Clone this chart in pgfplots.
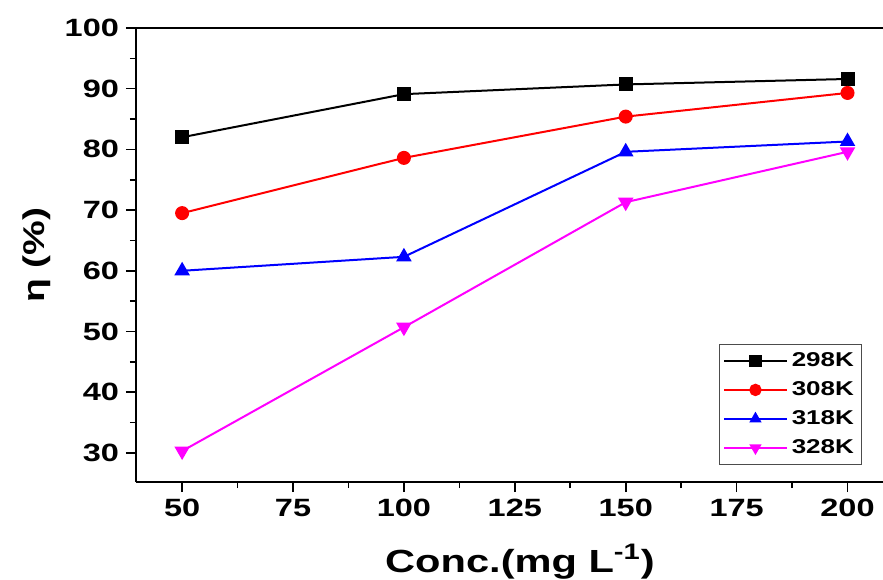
\documentclass[border=0pt]{standalone}
\usepackage{fontspec}
\setmainfont{Liberation Sans}[FakeStretch=1.3]
\usepackage{pgfplots}
\pgfplotsset{compat=1.18}
\definecolor{mag}{RGB}{255,0,255}
\definecolor{bl}{RGB}{0,0,255}
\definecolor{rd}{RGB}{255,0,0}
\begin{document}
\begin{tikzpicture}
\begin{axis}[
  scale only axis,
  width=373.5pt, height=227pt,
  xmin=39.6, xmax=208, ymin=25.2, ymax=100,
  axis x line*=box, axis y line*=left,
  axis line style={line width=1pt},
  xtick={50,75,...,200}, ytick={30,40,...,100},
  minor x tick num=1, minor y tick num=1,
  xtick pos=bottom, ytick pos=left,
  tick align=outside,
  major tick length=5pt, minor tick length=3pt,
  every tick/.style={line width=0.8pt, black},
  /pgf/number format/assume math mode=true,
  tick label style={font=\fontsize{12.5}{14}\selectfont\bfseries},
  xlabel={\textbf{Conc.(mg L\textsuperscript{-1})}},
  xlabel style={font=\fontsize{16}{18}\selectfont, at={(axis description cs:0.514,0)}, anchor=base, yshift=-45pt},
  ylabel={\textbf{η (\%)}},
  ylabel style={font=\fontsize{15}{17}\selectfont, at={(axis description cs:-0.1325,0.5)}, anchor=center},
  legend style={at={(0.78,0.304)}, anchor=north west, font=\fontsize{10}{11}\selectfont\bfseries,
    draw=black!70, line width=0.5pt, row sep=2pt, inner sep=2pt},
  legend cell align=left,
  legend image code/.code={\draw[mark repeat=2,mark phase=2, mark size=2.6pt] plot coordinates {(0cm,0cm)(0.55cm,0cm)(1.1cm,0cm)};},
  every axis plot/.append style={line width=1pt},
  clip=false
]
\addplot[black, mark=square*, mark size=3pt, mark options={solid}] coordinates {(50,82) (100,89.1) (150,90.7) (200,91.6)};
\addlegendentry{298K}
\addplot[rd, mark=*, mark size=3pt] coordinates {(50,69.5) (100,78.6) (150,85.4) (200,89.3)};
\addlegendentry{308K}
\addplot[bl, mark=triangle*, mark size=3.5pt] coordinates {(50,60) (100,62.3) (150,79.6) (200,81.3)};
\addlegendentry{318K}
\addplot[mag, mark=triangle*, mark size=3.5pt, mark options={rotate=180}] coordinates {(50,30.3) (100,50.7) (150,71.3) (200,79.6)};
\addlegendentry{328K}
\coordinate (bl) at (rel axis cs:0,0);
\coordinate (tr) at (rel axis cs:1,1);
\end{axis}
\pgfresetboundingbox
\path[use as bounding box] ([xshift=-68pt,yshift=-48.5pt]bl) rectangle ([yshift=14pt]tr);
\end{tikzpicture}
\end{document}
